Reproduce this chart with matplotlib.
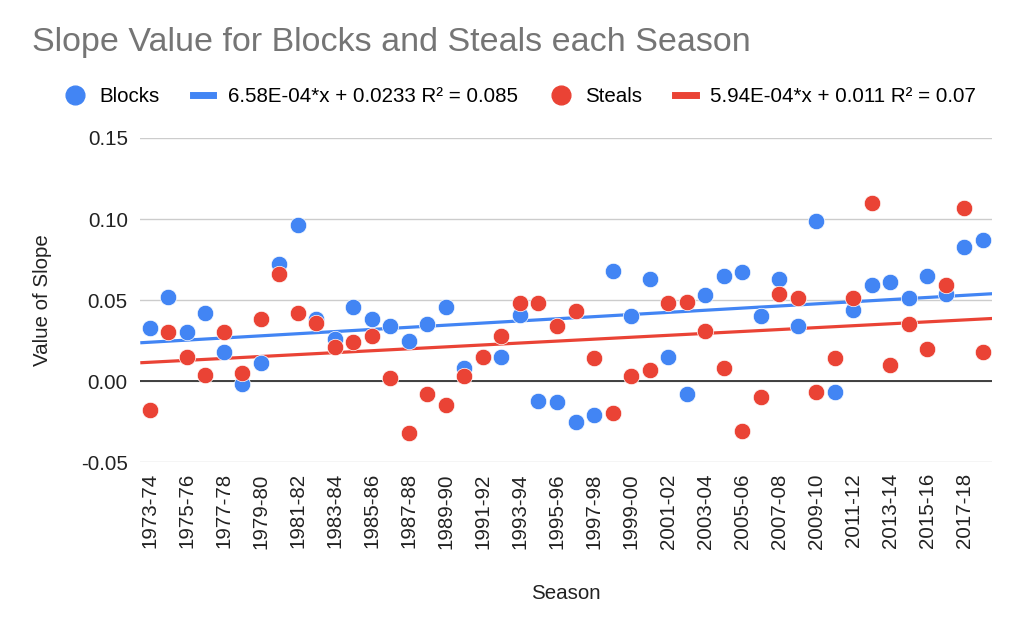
import numpy as np
import matplotlib
matplotlib.use("Agg")
import matplotlib.pyplot as plt
from matplotlib.lines import Line2D

plt.rcParams['font.family'] = ['Liberation Sans', 'DejaVu Sans']

seasons = [f"{y}-{str(y + 1)[-2:]}" for y in range(1973, 2019)]

blocks = [0.033, 0.052, 0.030, 0.042, 0.018, -0.002, 0.011, 0.072, 0.096, 0.038,
          0.026, 0.046, 0.038, 0.034, 0.025, 0.035, 0.046, 0.008, 0.015, 0.015,
          0.041, -0.012, -0.013, -0.025, -0.021, 0.068, 0.040, 0.063, 0.015, -0.008,
          0.053, 0.065, 0.067, 0.040, 0.063, 0.034, 0.099, -0.007, 0.044, 0.059,
          0.061, 0.051, 0.065, 0.054, 0.083, 0.087]

steals = [-0.018, 0.030, 0.015, 0.004, 0.030, 0.005, 0.038, 0.066, 0.042, 0.036,
          0.021, 0.024, 0.028, 0.002, -0.032, -0.008, -0.015, 0.003, 0.015, 0.028,
          0.048, 0.048, 0.034, 0.043, 0.014, -0.020, 0.003, 0.007, 0.048, 0.049,
          0.031, 0.008, -0.031, -0.010, 0.054, 0.051, -0.007, 0.014, 0.051, 0.110,
          0.010, 0.035, 0.020, 0.059, 0.107, 0.018]

# trendline coefficients from the legend (x = 1..n)
blocks_fit = (6.58e-4, 0.0233)
steals_fit = (5.94e-4, 0.011)

blue = '#4285F4'
red = '#EA4335'
fs = 14.8

fig = plt.figure(figsize=(10.24, 6.33), dpi=100)
ax = fig.add_axes([0.137, 0.270, 0.832, 0.512])

idx = np.arange(len(seasons))
xs = np.array([-0.5, len(seasons) - 0.5])

ax.plot(xs, blocks_fit[0] * (xs + 1) + blocks_fit[1], color=blue, lw=2.3, zorder=2,
        solid_capstyle='butt')
ax.plot(xs, steals_fit[0] * (xs + 1) + steals_fit[1], color=red, lw=2.3, zorder=2,
        solid_capstyle='butt')
ax.scatter(idx, blocks, s=140, color=blue, edgecolors='white', linewidths=0.5, zorder=3)
ax.scatter(idx, steals, s=140, color=red, edgecolors='white', linewidths=0.5, zorder=4)

ax.axhline(0, color='#333333', lw=1.3, zorder=1.5)

ax.set_xlim(-0.5, len(seasons) - 0.5)
ax.set_ylim(-0.05, 0.15)
ax.set_yticks([-0.05, 0.0, 0.05, 0.10, 0.15])
ax.set_yticklabels(['-0.05', '0.00', '0.05', '0.10', '0.15'])
ax.set_xticks(idx[::2])
ax.set_xticklabels(seasons[::2], rotation=90)
ax.grid(axis='y', color='#cccccc', lw=1)
ax.set_axisbelow(True)
for s in ax.spines.values():
    s.set_visible(False)
ax.tick_params(axis='both', length=0, labelsize=fs, colors='#222222')
ax.tick_params(axis='x', pad=8)
ax.tick_params(axis='y', pad=9)

ax.set_xlabel('Season', fontsize=fs, color='#222222')
ax.xaxis.set_label_coords(0.5, -0.375)
ax.set_ylabel('Value of Slope', fontsize=fs, color='#222222')
ax.yaxis.set_label_coords(-0.104, 0.5)

fig.text(0.031, 0.958, 'Slope Value for Blocks and Steals each Season', fontsize=24.5,
         color='#757575', va='top', ha='left')

handles = [
    Line2D([], [], ls='none', marker='o', markersize=13.5, color=blue),
    Line2D([], [], color=blue, lw=5),
    Line2D([], [], ls='none', marker='o', markersize=13.5, color=red),
    Line2D([], [], color=red, lw=5),
]
labels = ['Blocks', '6.58E-04*x + 0.0233 R² = 0.085',
          'Steals', '5.94E-04*x + 0.011 R² = 0.07']
fig.legend(handles, labels, loc='center left', bbox_to_anchor=(0.045, 0.847), ncol=4,
           frameon=False, fontsize=fs, handlelength=1.0, handletextpad=0.7,
           columnspacing=1.6)

plt.savefig('out.png', dpi=100)
